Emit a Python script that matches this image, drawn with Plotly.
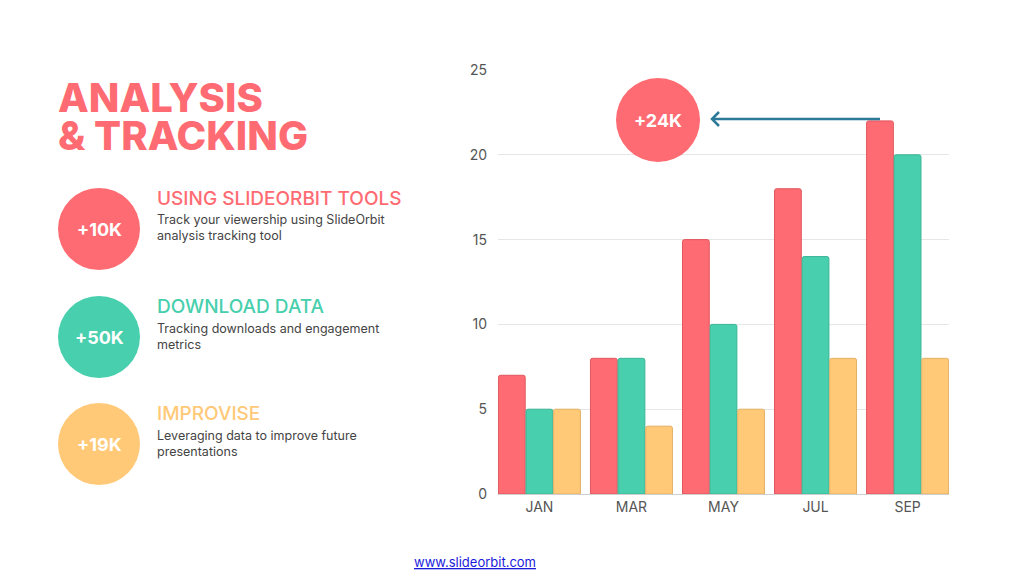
import plotly.graph_objects as go

# data
months = ["JAN", "MAR", "MAY", "JUL", "SEP"]
series_red = [7, 8, 15, 18, 22]
series_teal = [5, 8, 10, 14, 20]
series_yellow = [5, 4, 5, 8, 8]
y_ticks = [0, 5, 10, 15, 20, 25]

items = [
    ("+10K", "USING SLIDEORBIT TOOLS", "Track your viewership using SlideOrbit<br>analysis tracking tool"),
    ("+50K", "DOWNLOAD DATA", "Tracking downloads and engagement<br>metrics"),
    ("+19K", "IMPROVISE", "Leveraging data to improve future<br>presentations"),
]

RED = "#FF6B72"
TEAL = "#48CFAD"
YELLOW = "#FFC977"
W, H = 1024, 576


def px(x):
    return x / W


def py(y):
    return 1 - y / H


fig = go.Figure()
for vals, col, edge in [(series_red, RED, "#e0575e"),
                        (series_teal, TEAL, "#3bb596"),
                        (series_yellow, YELLOW, "#e3b064")]:
    fig.add_trace(go.Bar(
        x=months, y=vals,
        marker=dict(color=col, line=dict(color=edge, width=1), cornerradius=2),
        hoverinfo="skip",
    ))

fig.update_layout(
    width=W, height=H,
    margin=dict(l=0, r=0, t=0, b=0),
    paper_bgcolor="white", plot_bgcolor="white",
    showlegend=False,
    barmode="group", bargap=0.1, bargroupgap=0.03,
    font=dict(family="Inter, Lato, sans-serif", color="#555"),
    xaxis=dict(
        domain=[px(498), px(949)],
        range=[-0.45, 4.45],
        showgrid=False, showline=True, linecolor="#cfcfcf", linewidth=1,
        ticks="", tickfont=dict(size=14, color="#555"),
        automargin=False,
    ),
    yaxis=dict(
        domain=[py(494), py(70)],
        range=[0, 25], tickvals=y_ticks,
        showgrid=True, gridcolor="#e6e6e6", gridwidth=1,
        zeroline=False, showline=False,
        ticks="", ticklabelstandoff=10,
        tickfont=dict(size=14, color="#555"),
        automargin=False,
    ),
)

shapes = []
annotations = []


def label(x, y, text, size, color, weight=None, xanchor="left", align="left", height=None):
    f = dict(size=size, color=color, family="Inter, sans-serif")
    if weight:
        f["weight"] = weight
    a = dict(x=px(x), y=py(y), xref="paper", yref="paper",
             xanchor=xanchor, yanchor="middle", align=align,
             text=text, showarrow=False, font=f)
    if height:
        a["height"] = height
    annotations.append(a)


# title
label(56, 97, "ANALYSIS", 40, RED, weight=800, height=36)
label(56, 135, "&amp; TRACKING", 40, RED, weight=800, height=36)

# left items
colors = [RED, TEAL, YELLOW]
centers = [229, 337, 444]
for (num, head, body), col, cy in zip(items, colors, centers):
    r = 41
    shapes.append(dict(type="circle", xref="paper", yref="paper",
                       x0=px(99 - r), x1=px(99 + r), y0=py(cy + r), y1=py(cy - r),
                       fillcolor=col, line=dict(width=0), layer="below"))
    label(99, cy, f"<b>{num}</b>", 18, "white", xanchor="center", align="center")
    label(155, cy - 31, head, 19, col, weight=500)
    label(155, cy - 1, body, 12.5, "#444")

# +24K callout
shapes.append(dict(type="circle", xref="paper", yref="paper",
                   x0=px(658 - 42), x1=px(658 + 42), y0=py(120 + 42), y1=py(120 - 42),
                   fillcolor=RED, line=dict(width=0), layer="above"))
label(658, 120, "<b>+24K</b>", 18, "white", xanchor="center", align="center")
ARROW = "#2B7A98"
shapes.append(dict(type="line", xref="paper", yref="paper",
                   x0=px(880), x1=px(712), y0=py(119), y1=py(119),
                   line=dict(color=ARROW, width=2.5)))
shapes.append(dict(type="path", xref="paper", yref="paper",
                   path=f"M {px(719)},{py(112)} L {px(712)},{py(119)} L {px(719)},{py(126)}",
                   line=dict(color=ARROW, width=2.5)))

# footer
label(475, 562, "<u>www.slideorbit.com</u>", 13, "#1a1adb", xanchor="center", align="center")

fig.update_layout(shapes=shapes, annotations=annotations)
fig.write_html("out.html", config={"displayModeBar": False},
               post_script="document.body.style.margin='0';")
